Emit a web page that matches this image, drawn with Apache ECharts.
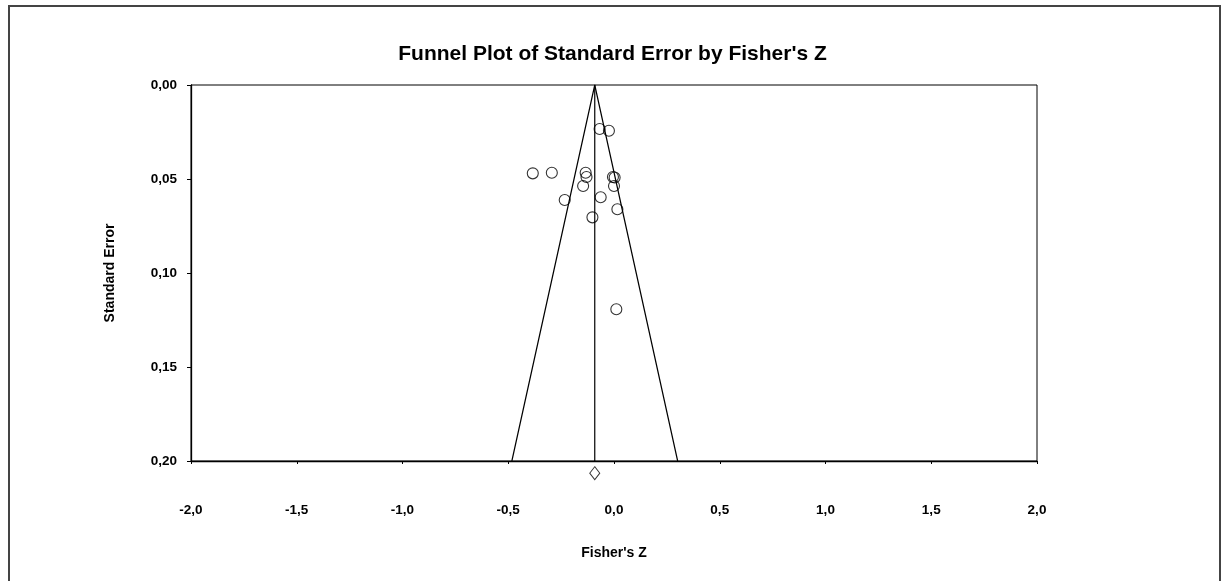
<!DOCTYPE html>
<html>
<head>
<meta charset="utf-8">
<script src="https://cdn.jsdelivr.net/npm/echarts@6/dist/echarts.min.js"></script>
<style>
html,body{margin:0;padding:0;background:#fff;}
#chart{width:1225px;height:581px;}
</style>
</head>
<body>
<div id="chart"></div>
<script>
// Study values: Fisher's Z and standard error
var studyZ  = [-0.068, -0.024, -0.384, -0.294, -0.134, -0.130, -0.146, -0.005, 0.003, 0.000, -0.233, -0.063, 0.016, -0.102, 0.011];
var studySE = [0.0234, 0.0243, 0.0470, 0.0467, 0.0467, 0.0489, 0.0537, 0.0489, 0.0492, 0.0537, 0.0612, 0.0597, 0.0661, 0.0704, 0.1193];
// Funnel (pseudo 95% limits) and combined effect
var funnelZ  = [-0.483, -0.091, 0.301];
var funnelSE = [0.20, 0.00, 0.20];
var meanLineZ  = [-0.091, -0.091];
var meanLineSE = [0.00, 0.20];
var summaryZ = [-0.091];
var summarySE = [0.2065];
// Axis ticks
var xTicks = [-2.0, -1.5, -1.0, -0.5, 0.0, 0.5, 1.0, 1.5, 2.0];
var yTicks = [0.00, 0.05, 0.10, 0.15, 0.20];

function zip(a, b) { return a.map(function (v, i) { return [v, b[i]]; }); }
function comma(v, d) { return v.toFixed(d).replace('.', ','); }

var font = 'Liberation Sans, Arial, sans-serif';
var chart = echarts.init(document.getElementById('chart'), null, { renderer: 'canvas' });
chart.setOption({
  animation: false,
  backgroundColor: '#fff',
  title: {
    text: "Funnel Plot of Standard Error by Fisher's Z",
    left: 'center', top: 39,
    textStyle: { fontFamily: font, fontSize: 21, fontWeight: 'bold', color: '#000' }
  },
  graphic: [{
    type: 'rect', shape: { x: 9, y: 6, width: 1211, height: 600 },
    style: { fill: null, stroke: '#444', lineWidth: 2 }, silent: true, z: -1
  }],
  grid: { left: 191, right: 188, top: 85, bottom: 120, show: true, borderColor: '#000', borderWidth: 1, backgroundColor: 'transparent' },
  xAxis: {
    type: 'value', min: -2, max: 2, interval: 0.5,
    name: "Fisher's Z", nameLocation: 'middle', nameGap: 85,
    nameTextStyle: { fontFamily: font, fontSize: 14, fontWeight: 'bold', color: '#000' },
    axisLine: { show: true, onZero: false, lineStyle: { color: '#000', width: 1.3 } },
    axisTick: { show: true, inside: false, length: 3, lineStyle: { color: '#000' } },
    splitLine: { show: false },
    axisLabel: { margin: 42, fontFamily: font, fontSize: 13.5, fontWeight: 'bold', color: '#000',
      formatter: function (v) { return comma(v, 1); } }
  },
  yAxis: {
    type: 'value', min: 0, max: 0.2, interval: 0.05, inverse: true,
    name: 'Standard Error', nameLocation: 'middle', nameGap: 74, nameRotate: 90,
    nameTextStyle: { fontFamily: font, fontSize: 14, fontWeight: 'bold', color: '#000' },
    axisLine: { show: true, onZero: false, lineStyle: { color: '#000', width: 1.3 } },
    axisTick: { show: true, length: 4, lineStyle: { color: '#000' } },
    splitLine: { show: false },
    axisLabel: { margin: 14, fontFamily: font, fontSize: 13.5, fontWeight: 'bold', color: '#000',
      formatter: function (v) { return comma(v, 2); } }
  },
  series: [
    {
      type: 'line', data: zip(funnelZ, funnelSE), symbol: 'none',
      lineStyle: { color: '#000', width: 1.2 }, clip: false, z: 2
    },
    {
      type: 'line', data: zip(meanLineZ, meanLineSE), symbol: 'none',
      lineStyle: { color: '#000', width: 1.2 }, clip: false, z: 2
    },
    {
      type: 'scatter', data: zip(studyZ, studySE), symbol: 'circle', symbolSize: 11,
      itemStyle: { color: 'rgba(255,255,255,0)', borderColor: '#000', borderWidth: 1.1 }, z: 3
    },
    {
      type: 'scatter', data: zip(summaryZ, summarySE), symbol: 'diamond', symbolSize: [10, 13],
      itemStyle: { color: '#fff', borderColor: '#000', borderWidth: 1 }, clip: false, z: 3
    }
  ]
});
</script>
</body>
</html>
